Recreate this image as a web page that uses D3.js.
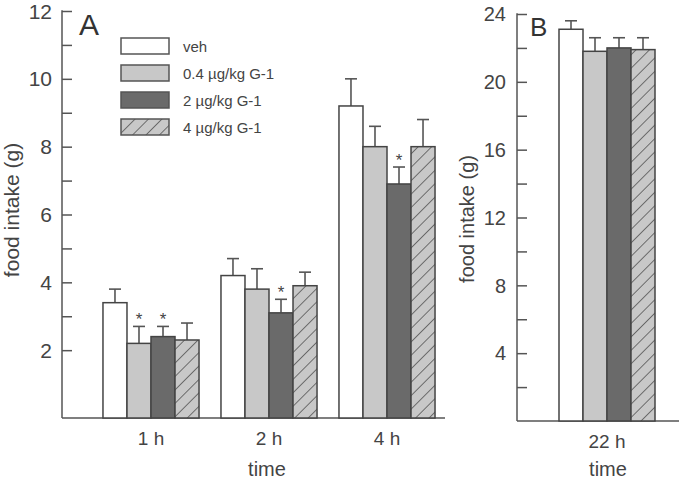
<!DOCTYPE html>
<html>
<head>
<meta charset="utf-8">
<script src="https://cdn.jsdelivr.net/npm/d3@7/dist/d3.min.js"></script>
<style>
  body { margin: 0; background: #fff; }
  svg { display: block; font-family: "Liberation Sans", Arial, sans-serif; }
</style>
</head>
<body>
<div id="chart"></div>
<script>
// data
const seriesNames = ['veh', '0.4 µg/kg G-1', '2 µg/kg G-1', '4 µg/kg G-1'];
const groupsA = ['1 h', '2 h', '4 h'];
const meansA = [[3.4, 2.2, 2.4, 2.3], [4.2, 3.8, 3.1, 3.9], [9.2, 8.0, 6.9, 8.0]];
const semA = [[0.4, 0.5, 0.3, 0.5], [0.5, 0.6, 0.4, 0.4], [0.8, 0.6, 0.5, 0.8]];
const starsA = [[0, 1, 1, 0], [0, 0, 1, 0], [0, 0, 1, 0]];
const groupsB = ['22 h'];
const meansB = [[23.1, 21.8, 22.0, 21.9]];
const semB = [[0.5, 0.8, 0.6, 0.7]];
const starsB = [[0, 0, 0, 0]];
const ticksA = [2, 4, 6, 8, 10, 12];
const ticksB = [4, 8, 12, 16, 20, 24];

const W = 680, H = 481;
const axisColor = '#555';
const textColor = '#444';
const fills = ['#ffffff', '#c8c8c8', '#6a6a6a', 'url(#hatch)'];

const svg = d3.select('#chart').append('svg')
  .attr('width', W)
  .attr('height', H);

// hatch pattern for the 4 µg/kg bars
const defs = svg.append('defs');
const pat = defs.append('pattern')
  .attr('id', 'hatch')
  .attr('patternUnits', 'userSpaceOnUse')
  .attr('width', 9.5)
  .attr('height', 9.5)
  .attr('patternTransform', 'rotate(45)');
pat.append('rect').attr('width', 9.5).attr('height', 9.5).attr('fill', '#c8c8c8');
pat.append('line')
  .attr('x1', 0).attr('y1', 0).attr('x2', 0).attr('y2', 9.5)
  .attr('stroke', '#555').attr('stroke-width', 1.6);

function drawPanel(cfg) {
  const g = svg.append('g');

  const y = d3.scaleLinear().domain([0, cfg.yMax]).range([cfg.y0, cfg.y1]);
  const x0 = d3.scaleBand()
    .domain(cfg.groups)
    .range(cfg.bandRange)
    .paddingInner(cfg.padInner)
    .paddingOuter(cfg.padOuter);
  const x1 = d3.scaleBand()
    .domain(d3.range(seriesNames.length))
    .range([0, x0.bandwidth()]);

  // y axis, ticks pointing inward
  const yAxis = d3.axisRight(y)
    .tickValues(d3.range(2, cfg.yMax + 1, cfg.yMax / 12))
    .tickSize(10)
    .tickFormat('');
  const ya = g.append('g')
    .attr('transform', `translate(${cfg.xAxis},0)`)
    .call(yAxis);
  ya.select('.domain').remove();
  ya.selectAll('line').attr('stroke', axisColor).attr('stroke-width', 1.5);
  g.append('line')
    .attr('x1', cfg.xAxis).attr('x2', cfg.xAxis)
    .attr('y1', y(cfg.yMax) - 0.75).attr('y2', cfg.y0)
    .attr('stroke', axisColor).attr('stroke-width', 1.5);

  // y tick labels
  g.selectAll('.ylab')
    .data(cfg.ticks)
    .enter().append('text')
    .attr('x', cfg.xAxis - cfg.labelGap)
    .attr('y', d => y(d))
    .attr('dy', '0.36em')
    .attr('text-anchor', 'end')
    .attr('fill', textColor)
    .style('font-size', cfg.tickFont + 'px')
    .text(d => d);

  // x axis baseline
  g.append('line')
    .attr('x1', cfg.xAxis).attr('x2', cfg.xEnd)
    .attr('y1', cfg.y0).attr('y2', cfg.y0)
    .attr('stroke', axisColor).attr('stroke-width', 1.5);

  const xa = g.append('g')
    .attr('transform', `translate(0,${cfg.y0})`)
    .call(d3.axisBottom(x0).tickSize(0).tickPadding(14));
  xa.select('.domain').remove();
  xa.selectAll('text')
    .attr('fill', textColor)
    .style('font-size', '19px')
    .style('font-family', '"Liberation Sans", Arial, sans-serif');

  // bars
  const flat = [];
  cfg.groups.forEach((grp, i) => {
    cfg.means[i].forEach((m, j) => {
      flat.push({ grp, j, m, e: cfg.sem[i][j], star: cfg.stars[i][j] });
    });
  });

  const bx = d => x0(d.grp) + x1(d.j);
  const bw = x1.bandwidth();

  // error bars (upper only)
  g.selectAll('.err')
    .data(flat)
    .enter().append('line')
    .attr('x1', d => bx(d) + bw / 2).attr('x2', d => bx(d) + bw / 2)
    .attr('y1', d => y(d.m)).attr('y2', d => y(d.m + d.e))
    .attr('stroke', axisColor).attr('stroke-width', 1.6);
  g.selectAll('.cap')
    .data(flat)
    .enter().append('line')
    .attr('x1', d => bx(d) + bw / 2 - 6).attr('x2', d => bx(d) + bw / 2 + 6)
    .attr('y1', d => y(d.m + d.e)).attr('y2', d => y(d.m + d.e))
    .attr('stroke', axisColor).attr('stroke-width', 1.6);

  g.selectAll('.bar')
    .data(flat)
    .enter().append('rect')
    .attr('x', bx)
    .attr('width', bw)
    .attr('y', d => y(d.m))
    .attr('height', d => cfg.y0 - y(d.m))
    .attr('fill', d => fills[d.j])
    .attr('stroke', '#444')
    .attr('stroke-width', 1.5);

  // significance markers
  g.selectAll('.star')
    .data(flat.filter(d => d.star))
    .enter().append('text')
    .attr('x', d => bx(d) + bw / 2)
    .attr('y', d => y(d.m + d.e) - 1)
    .attr('text-anchor', 'middle')
    .attr('fill', textColor)
    .style('font-size', '17px')
    .text('*');

  // axis titles
  g.append('text')
    .attr('transform', `translate(${cfg.yTitleX},${cfg.yTitleY}) rotate(-90)`)
    .attr('text-anchor', 'middle')
    .attr('fill', textColor)
    .style('font-size', cfg.titleFont + 'px')
    .text('food intake (g)');
  g.append('text')
    .attr('x', cfg.timeX)
    .attr('y', 476)
    .attr('text-anchor', 'middle')
    .attr('fill', textColor)
    .style('font-size', '20px')
    .text('time');

  // panel letter
  g.append('text')
    .attr('x', cfg.letterX)
    .attr('y', cfg.letterY)
    .attr('fill', '#333')
    .style('font-size', cfg.letterFont + 'px')
    .text(cfg.letter);

  return { x0, y };
}

drawPanel({
  groups: groupsA, means: meansA, sem: semA, stars: starsA, ticks: ticksA,
  yMax: 12, y0: 418, y1: 11,
  xAxis: 62, xEnd: 445,
  bandRange: [92, 446], padInner: 0.186, padOuter: 0.093,
  labelGap: 10, tickFont: 21,
  yTitleX: 19, yTitleY: 210, titleFont: 21,
  timeX: 267,
  letter: 'A', letterX: 79, letterY: 35, letterFont: 30
});

drawPanel({
  groups: groupsB, means: meansB, sem: semB, stars: starsB, ticks: ticksB,
  yMax: 24, y0: 421, y1: 14,
  xAxis: 517, xEnd: 679,
  bandRange: [559, 655], padInner: 0, padOuter: 0,
  labelGap: 11, tickFont: 20,
  yTitleX: 474, yTitleY: 219, titleFont: 20,
  timeX: 608,
  letter: 'B', letterX: 530, letterY: 36, letterFont: 26
});

// legend
const legend = svg.append('g').attr('transform', 'translate(121,38)');
const li = legend.selectAll('g')
  .data(seriesNames)
  .enter().append('g')
  .attr('transform', (d, i) => `translate(0,${i * 27})`);
li.append('rect')
  .attr('width', 48)
  .attr('height', 16)
  .attr('fill', (d, i) => fills[i])
  .attr('stroke', '#555')
  .attr('stroke-width', 1.5);
li.append('text')
  .attr('x', 62)
  .attr('y', 14)
  .attr('fill', textColor)
  .style('font-size', '15px')
  .text(d => d);
</script>
</body>
</html>
